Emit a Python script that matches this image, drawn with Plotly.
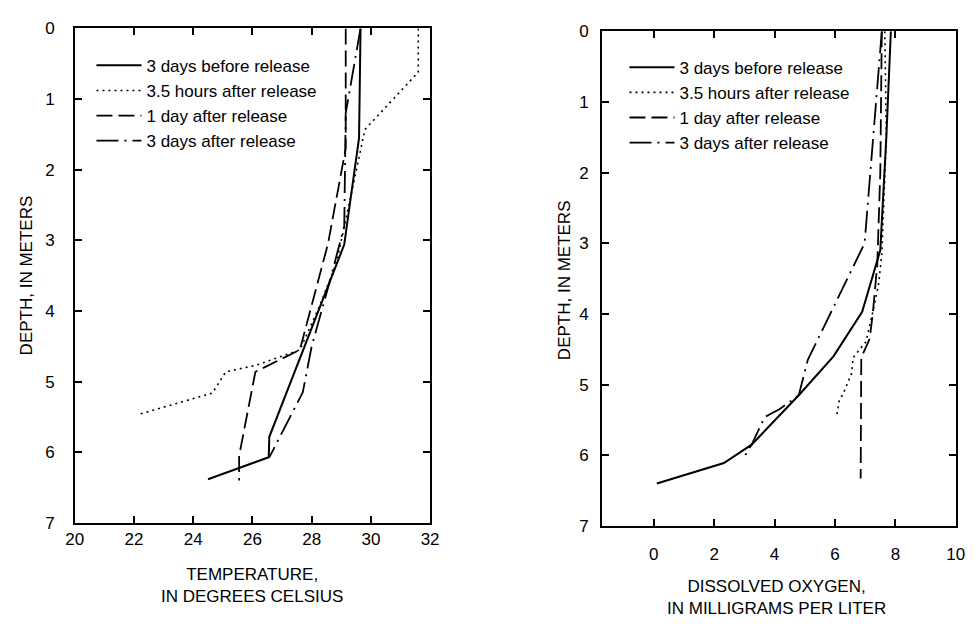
import plotly.graph_objects as go

# ---------------- data ----------------
series_names = ["3 days before release", "3.5 hours after release",
                "1 day after release", "3 days after release"]

# Temperature panel (deg C vs depth m)
temp_before3_t = [29.65, 29.6, 29.1, 26.57, 26.55, 24.5]
temp_before3_d = [0, 1.55, 3.06, 5.78, 6.07, 6.38]
temp_hours35_t = [31.6, 31.6, 29.8, 29.2, 28.85, 28.3, 27.6, 26.1, 25.1, 24.65, 22.1]
temp_hours35_d = [0, 0.62, 1.43, 2.6, 3.3, 3.9, 4.55, 4.77, 4.86, 5.16, 5.47]
temp_day1_t = [29.15, 29.15, 28.55, 27.6, 26.1, 25.55, 25.55]
temp_day1_d = [0, 1.7, 3.05, 4.55, 4.86, 6.05, 6.4]
temp_after3_t = [29.65, 29.4, 29.15, 29.1, 28.6, 28.0, 27.7, 26.57]
temp_after3_d = [0, 0.62, 1.2, 2.8, 3.6, 4.5, 5.15, 6.07]

# Dissolved oxygen panel (mg/L vs depth m)
do_before3_v = [7.85, 7.7, 7.5, 6.9, 5.95, 4.8, 3.24, 2.32, 0.1]
do_before3_d = [0, 1.5, 3.1, 3.97, 4.6, 5.15, 5.85, 6.11, 6.4]
do_hours35_v = [7.65, 7.7, 7.55, 7.45, 7.3, 7.03, 6.6, 6.55, 6.28, 6.14, 6.06]
do_hours35_d = [0, 1.5, 3.15, 3.56, 3.88, 4.39, 4.62, 4.84, 5.12, 5.23, 5.43]
do_day1_v = [7.55, 7.5, 7.4, 7.25, 7.15, 6.87, 6.85]
do_day1_d = [0, 2.0, 3.3, 4.0, 4.35, 4.62, 6.33]
do_after3_v = [7.55, 6.98, 5.1, 4.8, 4.16, 3.67, 3.24, 2.95]
do_after3_d = [0, 3.0, 4.65, 5.15, 5.35, 5.46, 5.85, 6.05]

temp_ticks = [20, 22, 24, 26, 28, 30, 32]
do_ticks = [0, 2, 4, 6, 8, 10]
depth_ticks = [0, 1, 2, 3, 4, 5, 6, 7]

# ---------------- styles ----------------
W, H = 979, 630
FONT = "Liberation Sans, Arial, Helvetica, sans-serif"
styles = [
    dict(color="black", width=2.0, dash="solid"),
    dict(color="black", width=1.6, dash="2px,4px"),
    dict(color="black", width=1.8, dash="16px,6px"),
    dict(color="black", width=1.8, dash="22px,6px,2px,6px"),
]

fig = go.Figure()
temp_sets = [(temp_before3_t, temp_before3_d), (temp_hours35_t, temp_hours35_d),
             (temp_day1_t, temp_day1_d), (temp_after3_t, temp_after3_d)]
do_sets = [(do_before3_v, do_before3_d), (do_hours35_v, do_hours35_d),
           (do_day1_v, do_day1_d), (do_after3_v, do_after3_d)]

for name, (x, y), st in zip(series_names, temp_sets, styles):
    fig.add_trace(go.Scatter(x=x, y=y, mode="lines", name=name, line=st,
                             xaxis="x", yaxis="y", legend="legend"))
for name, (x, y), st in zip(series_names, do_sets, styles):
    fig.add_trace(go.Scatter(x=x, y=y, mode="lines", name=name, line=st,
                             xaxis="x2", yaxis="y2", legend="legend2"))

def px_x(p):
    return p / W

def px_y(p):
    return 1 - p / H

axis_common = dict(showline=True, linecolor="black", linewidth=1.5, mirror="ticks",
                   ticks="inside", ticklen=7, tickwidth=1.5, tickcolor="black",
                   showgrid=False, zeroline=False,
                   tickfont=dict(family=FONT, size=17, color="black"))

legend_common = dict(xanchor="left", yanchor="top", bgcolor="rgba(0,0,0,0)",
                     borderwidth=0, tracegroupgap=0, itemwidth=45,
                     font=dict(family=FONT, size=17, color="black"))

fig.update_layout(
    width=W, height=H,
    margin=dict(l=0, r=0, t=0, b=0),
    paper_bgcolor="white", plot_bgcolor="white",
    font=dict(family=FONT, size=17, color="black"),
    xaxis=dict(axis_common, domain=[px_x(67), px_x(429)], range=[20, 32],
               tickvals=temp_ticks, anchor="y"),
    yaxis=dict(axis_common, domain=[px_y(530), px_y(20)], range=[7, 0],
               tickvals=depth_ticks, anchor="x", ticklabelstandoff=15),
    xaxis2=dict(axis_common, domain=[px_x(604), px_x(964.5)], range=[-1.72, 10],
                tickvals=do_ticks, anchor="y2", ticklabelstandoff=12),
    yaxis2=dict(axis_common, domain=[px_y(533), px_y(23)], range=[7, 0],
                tickvals=depth_ticks, anchor="x2", ticklabelstandoff=8),
    legend=dict(legend_common, x=px_x(84), y=px_y(40)),
    legend2=dict(legend_common, x=px_x(627), y=px_y(42)),
    showlegend=True,
)

annots = [
    dict(text="TEMPERATURE,<br>IN DEGREES CELSIUS", x=px_x(248), y=px_y(594)),
    dict(text="DISSOLVED OXYGEN,<br>IN MILLIGRAMS PER LITER", x=px_x(782), y=px_y(607)),
    dict(text="DEPTH, IN METERS", x=px_x(18), y=px_y(275), textangle=-90),
    dict(text="DEPTH, IN METERS", x=px_x(566), y=px_y(280), textangle=-90),
]
for a in annots:
    fig.add_annotation(xref="paper", yref="paper", showarrow=False,
                       xanchor="center", yanchor="middle",
                       font=dict(family=FONT, size=17, color="black"), **a)

fig.write_html(
    "out.html",
    config={"displayModeBar": False},
    post_script="document.body.style.margin='0';document.body.style.overflow='hidden';",
)
